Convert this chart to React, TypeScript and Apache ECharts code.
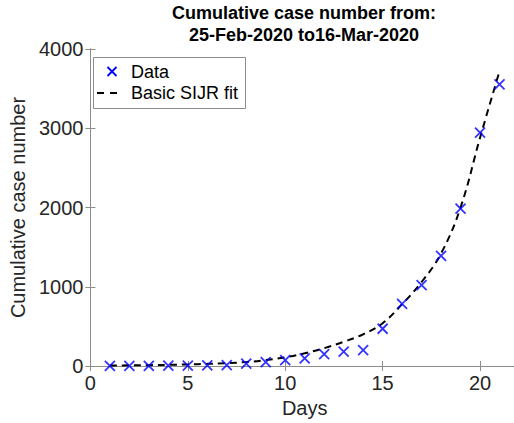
import React, { useEffect, useRef } from "react";
import * as echarts from "echarts";

const days = [1, 2, 3, 4, 5, 6, 7, 8, 9, 10, 11, 12, 13, 14, 15, 16, 17, 18, 19, 20, 21];
const caseData = [1, 1, 2, 4, 5, 8, 10, 30, 50, 75, 95, 150, 180, 200, 470, 785, 1020, 1390, 1985, 2945, 3555];
const fitData = [5, 8, 11, 15, 20, 27, 37, 50, 75, 110, 160, 225, 305, 400, 540, 780, 1060, 1420, 2000, 2880, 3720];
const xTicks = [0, 5, 10, 15, 20];
const yTicks = [0, 1000, 2000, 3000, 4000];
const titleLines = ["Cumulative case number from:", "25-Feb-2020 to16-Mar-2020"];
const legendLabels = ["Data", "Basic SIJR fit"];

const FONT = "'Liberation Sans', Arial, Helvetica, sans-serif";
const AXIS = "#262626";
const LINE = "#8c8c8c";

export default function App() {
  const ref = useRef<HTMLDivElement>(null);
  useEffect(() => {
    if (!ref.current) return;
    const chart = echarts.init(ref.current, null, { renderer: "svg" });
    const xMin = xTicks[0];
    const xMax = 22;
    const yMin = yTicks[0];
    const yMax = yTicks[yTicks.length - 1];
    const xAxisBase = {
      type: "value" as const,
      min: xMin,
      max: xMax,
      interval: 5,
      splitLine: { show: false },
      axisLine: { show: true, lineStyle: { color: LINE, width: 1 } },
      axisTick: { show: true, inside: true, length: 5, lineStyle: { color: LINE } },
    };
    const yAxisBase = {
      type: "value" as const,
      min: yMin,
      max: yMax,
      interval: 1000,
      splitLine: { show: false },
      axisLine: { show: true, lineStyle: { color: LINE, width: 1 } },
      axisTick: { show: true, inside: true, length: 5, lineStyle: { color: LINE } },
    };
    chart.setOption({
      animation: false,
      backgroundColor: "#ffffff",
      title: {
        text: titleLines.join("\n"),
        left: 304,
        textAlign: "center",
        top: 2,
        padding: 0,
        textStyle: {
          fontFamily: FONT,
          fontWeight: "bold",
          fontSize: 18,
          lineHeight: 22,
          color: "#000",
        },
      },
      grid: { left: 86, top: 49, right: 0, bottom: 57, containLabel: false },
      xAxis: [
        {
          ...xAxisBase,
          position: "bottom",
          name: "Days",
          nameLocation: "middle",
          nameGap: 32,
          nameTextStyle: { fontFamily: FONT, fontSize: 20, color: AXIS },
          axisLabel: {
            margin: 7,
            fontFamily: FONT,
            fontSize: 20,
            color: AXIS,
            formatter: (v: number) => (xTicks.includes(v) ? String(v) : ""),
          },
        },
        {
          ...xAxisBase,
          position: "top",
          axisLabel: { show: false },
        },
      ],
      yAxis: [
        {
          ...yAxisBase,
          position: "left",
          name: "Cumulative case number",
          nameLocation: "middle",
          nameGap: 52,
          nameTextStyle: { fontFamily: FONT, fontSize: 20, color: AXIS },
          axisLabel: {
            margin: 7,
            fontFamily: FONT,
            fontSize: 20,
            color: AXIS,
            formatter: (v: number) => (yTicks.includes(v) ? String(v) : ""),
          },
        },
        {
          ...yAxisBase,
          position: "right",
          axisLabel: { show: false },
        },
      ],
      series: [
        {
          name: legendLabels[1],
          type: "line",
          data: days.map((d, i) => [d, fitData[i]]),
          smooth: 0.4,
          symbol: "none",
          lineStyle: { color: "#000", width: 2, type: [7, 5] },
          z: 2,
        },
        {
          name: legendLabels[0],
          type: "scatter",
          data: days.map((d, i) => [d, caseData[i]]),
          symbol: "path://M0,0L10,10M10,0L0,10",
          symbolSize: 10,
          itemStyle: { color: "transparent", borderColor: "#0000ff", borderWidth: 1.8 },
          z: 3,
        },
      ],
      graphic: [
        {
          type: "rect",
          shape: { x: 93.5, y: 57.5, width: 152, height: 51 },
          style: { fill: "#fff", stroke: LINE, lineWidth: 1 },
          z: 10,
        },
        {
          type: "line",
          shape: { x1: 107.5, y1: 67, x2: 116.5, y2: 76 },
          style: { stroke: "#0000ff", lineWidth: 1.8 },
          z: 11,
        },
        {
          type: "line",
          shape: { x1: 116.5, y1: 67, x2: 107.5, y2: 76 },
          style: { stroke: "#0000ff", lineWidth: 1.8 },
          z: 11,
        },
        {
          type: "text",
          x: 131,
          y: 72,
          style: {
            text: legendLabels[0],
            fontFamily: FONT,
            fontSize: 18,
            fill: "#000",
            verticalAlign: "middle",
            align: "left",
          },
          z: 11,
        },
        {
          type: "line",
          shape: { x1: 97, y1: 93, x2: 121, y2: 93 },
          style: { stroke: "#000", lineWidth: 2, lineDash: [7, 6] },
          z: 11,
        },
        {
          type: "text",
          x: 131,
          y: 93,
          style: {
            text: legendLabels[1],
            fontFamily: FONT,
            fontSize: 18,
            fill: "#000",
            verticalAlign: "middle",
            align: "left",
          },
          z: 11,
        },
      ],
    });
    return () => chart.dispose();
  }, []);
  return (
    <div style={{ width: 514, height: 423, position: "absolute", left: 0, top: 0, overflow: "hidden" }}>
      <div ref={ref} style={{ width: 522, height: 423, position: "absolute", left: 0, top: 0 }} />
    </div>
  );
}
